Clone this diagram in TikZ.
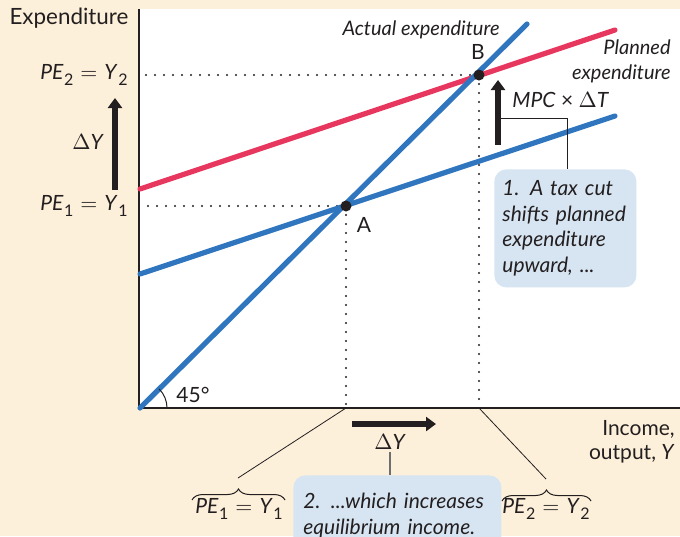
\documentclass[tikz,border=0pt]{standalone}
\usepackage{fontspec}
\setmainfont{Lato}
\usepackage{xcolor}
\usetikzlibrary{arrows.meta,positioning,decorations.pathreplacing,calc}
\definecolor{cream}{HTML}{FDF0DA}
\definecolor{ink}{HTML}{231F20}
\definecolor{lineblue}{HTML}{2F76BF}
\definecolor{linered}{HTML}{E8375E}
\definecolor{notebg}{HTML}{D7E5F2}
\definecolor{leadgray}{HTML}{6D6E70}
\newcommand{\peq}[1]{\textit{PE}\kern0.3pt\raisebox{-0.6ex}{\footnotesize #1}\kern3.5pt$=$\kern3.5pt\textit{Y}\kern0.3pt\raisebox{-0.6ex}{\footnotesize #1}}
\tikzset{
  axis/.style={draw=ink,line width=0.7pt},
  curve/.style={line width=2.6pt,line cap=round},
  guide/.style={draw=ink,line width=1.1pt,line cap=round,
                dash pattern=on 0pt off 4.5pt},
  bigarr/.style={-{Triangle[length=5pt,width=7pt]},line width=2.6pt,draw=ink},
  eqdot/.style={circle,fill=ink,inner sep=0pt,minimum size=5.5pt},
  lab/.style={text=ink,inner sep=1pt,font=\fontsize{10.5}{12}\selectfont},
  itlab/.style={lab,font=\fontsize{10}{12.5}\selectfont\itshape},
  note/.style={fill=notebg,rounded corners=6pt,align=left,text=ink,
               font=\fontsize{10.5}{12.8}\selectfont\itshape,inner sep=4pt},
  leader/.style={draw=ink,line width=0.4pt},
  bbrace/.style={decorate,decoration={brace,amplitude=5.5pt},
                 line width=0.5pt,draw=ink}
}
\begin{document}
\begin{tikzpicture}[x=0.5pt,y=-0.5pt]
  \fill[cream] (0,0) rectangle (680,536);
  \useasboundingbox (0,0) rectangle (680,536);
  \fill[white] (139,9) rectangle (680,408);

  % axes and the three lines
  \coordinate (O) at (140,408);
  \coordinate (A) at (346,206);
  \coordinate (B) at (479,75);
  \draw[axis] (139,9) -- (139,408) -- (680,408);
  \draw[guide] (B) -- (B -| O) (B) -- (B |- O);
  \draw[guide] (A) -- (A -| O) (A) -- (A |- O);
  \draw[curve,draw=linered] (140,189) -- (615,30);
  \draw[curve,draw=lineblue] (140,274) -- (615,116);
  \draw[curve,draw=lineblue] (O) -- (527,24);
  \draw[ink,line width=0.5pt] ([xshift=13.5pt]O) arc (0:-45:27);
  \node[eqdot] (ptA) at (A) {};
  \node[eqdot] (ptB) at (B) {};

  % labels in the plot
  \node[lab,font=\fontsize{11.2}{13}\selectfont] (yaxis) at (69,18) {Expenditure};
  \node[lab,anchor=east] (pe2) at (130,75) {\peq{2}};
  \node[lab,anchor=east] (pe1) at (130,206) {\peq{1}};
  \node[lab] (dYup) at (88,142) {$\Delta$\textit{Y}};
  \draw[bigarr] (115,190) -- (115,98);
  \node[itlab] (actual) at (421,30) {Actual expenditure};
  \node[itlab,align=right,anchor=east] (planned) at (673,61) {Planned\\expenditure};
  \node[lab] (labB) at (478,52) {B};
  \node[lab] (labA) at (364,225) {A};
  \node[lab] (angle) at (193,395) {45°};
  \node[lab,anchor=west] (mpc) at (510,100) {\textit{MPC} × $\Delta$\textit{T}};
  \draw[bigarr] (498,145) -- (498,80);
  \coordinate (shiftmid) at (500,118);
  \node[note,anchor=north west,text width=63pt,minimum height=59pt] (taxcut) at (494,169)
    {1. A tax cut\\shifts planned\\expenditure\\upward, ...};
  \draw[leader] (shiftmid) -| ([xshift=1pt]taxcut.north);

  % below the axis
  \node[lab,align=right,anchor=east] (xaxis) at (677,442) {Income,\\output, \textit{Y}};
  \draw[bigarr] (352,424) -- (436,424);
  \node[lab] (dYright) at (390,442) {$\Delta$\textit{Y}};
  \node[note,anchor=north west,text width=94pt,minimum height=40pt,inner sep=5pt] (income) at (293,475)
    {2. ...which increases\\equilibrium income.};
  \draw[leader,draw=leadgray,line width=0.8pt] (dYright.south) -- (dYright.south |- income.north);
  \node[lab] (pe1low) at (239,509) {\peq{1}};
  \node[lab] (pe2low) at (546,509) {\peq{2}};
  \draw[bbrace] (192,500) -- (285,500);
  \draw[bbrace] (502,501) -- (591,501);
  \draw[leader] (A |- O) -- (238,478);
  \draw[leader] (B |- O) -- (546,479);
\end{tikzpicture}
\end{document}
